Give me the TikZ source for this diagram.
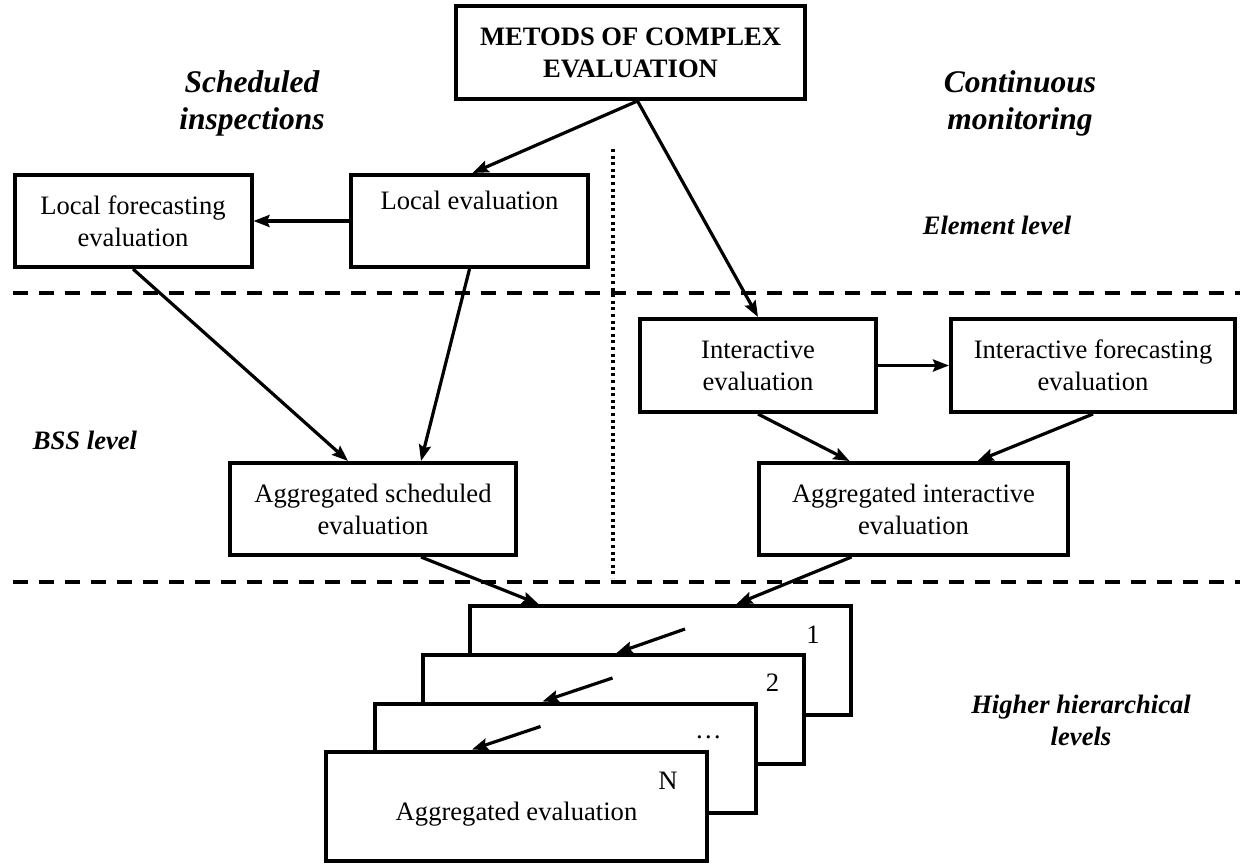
\documentclass[tikz,border=0pt]{standalone}
\usepackage{fontspec}
\setmainfont{Liberation Serif}
\usetikzlibrary{calc,arrows.meta}

\begin{document}
\begin{tikzpicture}[x=0.5pt,y=-0.5pt,
                    every node/.style = {inner sep=0pt, font=\fontsize{13.3pt}{16pt}\selectfont},
                    evalbox/.style = {draw, line width=2pt, align=center, minimum height=46pt},
                    stackbox/.style = {evalbox, fill=white, minimum width=190.5pt, minimum height=54.5pt},
                    heading/.style = {align=center, font=\fontsize{15.75pt}{18.5pt}\selectfont\bfseries\itshape},
                    levelname/.style = {align=center, font=\fontsize{13.3pt}{16pt}\selectfont\bfseries\itshape},
                    arr/.style = {line width=1.6pt, -{Stealth[length=8pt,width=6pt,inset=1.2pt]}},
                    levelline/.style = {line width=2pt, dash pattern=on 7.5pt off 5.5pt}]
\useasboundingbox (0,0) rectangle (1240,865);
\node[evalbox, minimum width=174.5pt, minimum height=46.5pt,
      font=\fontsize{13.3pt}{16pt}\selectfont\bfseries] (met) at (630.5,52.5) {METODS OF COMPLEX\\EVALUATION};
\node[evalbox, minimum width=118.5pt] (lf) at (133,221) {Local forecasting\\evaluation};
\node[evalbox, minimum width=118.5pt] (le) at (469.5,221) {Local evaluation\\\strut};
\node[evalbox, minimum width=118pt, minimum height=46.5pt] (ie) at (758,365.5) {Interactive\\evaluation};
\node[evalbox, minimum width=142pt, minimum height=46.5pt] (ifc) at (1093,365.5) {Interactive forecasting\\evaluation};
\node[evalbox, minimum width=143pt] (as) at (373,509) {Aggregated scheduled\\evaluation};
\node[evalbox, minimum width=154.5pt] (ai) at (913.5,509) {Aggregated interactive\\evaluation};
\node[stackbox] (b1) at (660.5,660.5) {};
\node[stackbox] (b2) at (613,709.5) {};
\node[stackbox] (b3) at (565,758) {};
\node[stackbox] (bN) at (516.5,806) {};
\node (bNtext) at ($(bN.center)+(0,8)$) {Aggregated evaluation};
\node (lab1) at ($(b1.north east)+(-40,31)$) {1};
\node (lab2) at ($(b2.north east)+(-33,30)$) {2};
\node (lab3) at ($(b3.north east)+(-49,36)$) {\dots};
\node (labN) at ($(bN.north east)+(-41,31)$) {N};
\node[heading] (sched) at (252,103) {Scheduled\\inspections};
\node[heading] (cont) at (1020,103) {Continuous\\monitoring};
\node[levelname] (elem) at (997,225) {Element level};
\node[levelname] (bss) at (85,440) {BSS level};
\node[levelname] (higher) at (1081,720) {Higher hierarchical\\levels};
\coordinate (l1w) at (13,293);
\coordinate (l1e) at (1240,293);
\coordinate (l2w) at (13,582);
\coordinate (l2e) at (1240,582);
\coordinate (dtop) at (613,149);
\coordinate (dbot) at (613,578);
\draw[levelline] (l1w) -- (l1e);
\draw[levelline] (l2w) -- (l2e);
\draw[line width=1.8pt, dash pattern=on 1.5pt off 1.8pt] (dtop) -- (dbot);
\draw[arr] ($(met.south)+(7,0)$) -- ($(le.north)+(3,0)$);
\draw[arr] ($(met.south)+(7,0)$) -- (ie.north);
\draw[arr] (le.west) -- (lf.east);
\draw[arr] (ie.east) -- (ifc.west);
\draw[arr] (lf.south) -- ($(as.north)+(-25,0)$);
\draw[arr] (le.south) -- ($(as.north)+(48,0)$);
\draw[arr] (ie.south) -- ($(ai.north)+(-64,0)$);
\draw[arr] (ifc.south) -- ($(ai.north)+(64,0)$);
\draw[arr] ($(as.south)+(48,0)$) -- ($(b1.north)+(-122,0)$);
\draw[arr] ($(ai.south)+(-62,0)$) -- ($(b1.north)+(76,0)$);
\foreach \a/\b/\s/\t in {b1/b2/217/196, b2/b3/192/170, b3/bN/168/148}
  \draw[arr] ($(\a.north west)+(\s,25)$) -- ($(\b.north west)+(\t,0)$);
\end{tikzpicture}
\end{document}
